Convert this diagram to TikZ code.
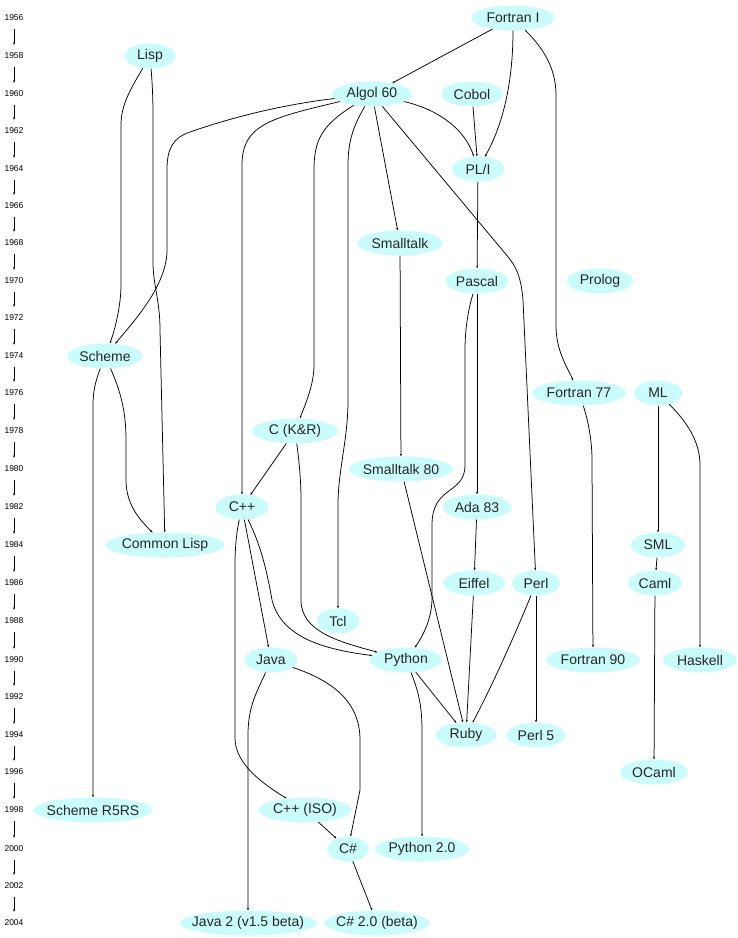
\documentclass[tikz,border=0pt]{standalone}
\usepackage{fontspec}
\setmainfont{Liberation Sans}
\usetikzlibrary{shapes.geometric,arrows.meta}
\definecolor{lc}{RGB}{202,252,252}
\newcommand\mklbl[1]{\makebox[0pt][c]{#1}}
\tikzset{
  lang/.style={ellipse, fill=lc, inner sep=0pt, minimum height=25pt, font=\fontsize{14}{16}\selectfont, text=black!85},
  yr/.style={font=\fontsize{8.5}{10}\selectfont, inner sep=0pt, minimum height=22pt, text=black},
  e/.style={draw, line width=0.75pt, -{Stealth[length=2.5pt,width=2pt]}},
  tl/.style={draw, line width=0.75pt, -{Stealth[length=2.5pt,width=2pt]}}
}
\begin{document}
\begin{tikzpicture}[x=1pt,y=-1pt]
\fill[white] (0,0) rectangle (738,938);
\useasboundingbox (0,0) rectangle (738,938);
% timeline
\foreach \yy/\r in {1956/18,1958/56,1960/94,1962/131,1964/169,1966/206,1968/243,1970/281,1972/318,1974/356,1976/393,1978/431,1980/469,1982/507,1984/545,1986/583,1988/621,1990/660,1992/697,1994/735,1996/772,1998/810,2000/849,2002/886,2004/923}
  \node[yr] (y\yy) at (14,\r) {\yy};
\foreach \a/\b in {1956/1958,1958/1960,1960/1962,1962/1964,1964/1966,1966/1968,1968/1970,1970/1972,1972/1974,1974/1976,1976/1978,1978/1980,1980/1982,1982/1984,1984/1986,1986/1988,1988/1990,1990/1992,1992/1994,1994/1996,1996/1998,1998/2000,2000/2002,2002/2004}
  \draw[tl] (y\a) -- (y\b);
% languages
\node[lang, minimum width=83pt] (FortranI) at (513,18) {\mklbl{Fortran I}};
\node[lang, minimum width=51pt] (Lisp) at (150,56) {\mklbl{Lisp}};
\node[lang, minimum width=80pt] (Algol) at (372,94) {\mklbl{Algol 60}};
\node[lang, minimum width=61pt] (Cobol) at (472,94) {\mklbl{Cobol}};
\node[lang, minimum width=52pt] (PLI) at (478,169) {\mklbl{PL/I}};
\node[lang, minimum width=85pt] (Smalltalk) at (400,243) {\mklbl{Smalltalk}};
\node[lang, minimum width=63pt] (Pascal) at (477,281) {\mklbl{Pascal}};
\node[lang, minimum width=66pt] (Prolog) at (600,281) {\mklbl{Prolog}};
\node[lang, minimum width=75pt] (Scheme) at (105,356) {\mklbl{Scheme}};
\node[lang, minimum width=94pt] (Fortran77) at (579,393) {\mklbl{Fortran 77}};
\node[lang, minimum width=48pt] (ML) at (658,393) {\mklbl{ML}};
\node[lang, minimum width=86pt] (CKR) at (295,431) {\mklbl{C (K\&R)}};
\node[lang, minimum width=104pt] (Smalltalk80) at (401,469) {\mklbl{Smalltalk 80}};
\node[lang, minimum width=53pt] (CPP) at (242,507) {\mklbl{C++}};
\node[lang, minimum width=69pt] (Ada83) at (477,507) {\mklbl{Ada 83}};
\node[lang, minimum width=119pt] (CommonLisp) at (165,545) {\mklbl{Common Lisp}};
\node[lang, minimum width=54pt] (SML) at (658,545) {\mklbl{SML}};
\node[lang, minimum width=62pt] (Eiffel) at (474,583) {\mklbl{Eiffel}};
\node[lang, minimum width=48pt] (Perl) at (536,583) {\mklbl{Perl}};
\node[lang, minimum width=54pt] (Caml) at (655,583) {\mklbl{Caml}};
\node[lang, minimum width=43pt] (Tcl) at (338,621) {\mklbl{Tcl}};
\node[lang, minimum width=53pt] (Java) at (271,660) {\mklbl{Java}};
\node[lang, minimum width=72pt] (Python) at (406,660) {\mklbl{Python}};
\node[lang, minimum width=94pt] (Fortran90) at (593,660) {\mklbl{Fortran 90}};
\node[lang, minimum width=74pt] (Haskell) at (700,660) {\mklbl{Haskell}};
\node[lang, minimum width=61pt] (Ruby) at (466,735) {\mklbl{Ruby}};
\node[lang, minimum width=59pt] (Perl5) at (536,735) {\mklbl{Perl 5}};
\node[lang, minimum width=68pt] (OCaml) at (654,772) {\mklbl{OCaml}};
\node[lang, minimum width=119pt] (SchemeR5RS) at (93,810) {\mklbl{Scheme R5RS}};
\node[lang, minimum width=93pt] (CPPISO) at (305,810) {\mklbl{C++ (ISO)}};
\node[lang, minimum width=41pt] (CS) at (348,849) {\mklbl{C\#}};
\node[lang, minimum width=94pt] (Python20) at (422,849) {\mklbl{Python 2.0}};
\node[lang, minimum width=137pt] (Java2) at (248,923) {\mklbl{Java 2 (v1.5 beta)}};
\node[lang, minimum width=105pt] (CS20) at (377,923) {\mklbl{C\# 2.0 (beta)}};
% edges
\draw[e] (FortranI) -- (Algol);
\draw[e] (FortranI) .. controls (513,90) and (500,130) .. (PLI);
\draw[e] (FortranI) .. controls (540,45) and (556,65) .. (556,95) -- (556,325) .. controls (556,350) and (566,365) .. (Fortran77);
\draw[e] (Lisp) .. controls (130,90) and (121,105) .. (121,125) -- (121,285) .. controls (121,305) and (115,330) .. (Scheme);
\draw[e] (Lisp) .. controls (152,80) and (153,95) .. (153,115) -- (153,262) .. controls (153,285) and (160,300) .. (160,330) -- (CommonLisp);
\draw[e] (Algol) .. controls (280,105) and (230,118) .. (190,132) .. controls (172,138) and (167,150) .. (167,170) -- (167,250) .. controls (167,285) and (135,320) .. (Scheme);
\draw[e] (Algol) .. controls (270,118) and (242,125) .. (242,165) -- (CPP);
\draw[e] (Algol) .. controls (322,125) and (314,140) .. (314,170) -- (314,365) .. controls (314,385) and (305,405) .. (CKR);
\draw[e] (Algol) .. controls (354,125) and (348,140) .. (348,165) -- (348,400) .. controls (348,440) and (338,470) .. (338,505) -- (Tcl);
\draw[e] (Algol) -- (Smalltalk);
\draw[e] (Algol) -- (509,258) .. controls (515,266) and (521,275) .. (523,300) -- (Perl);
\draw[e] (Algol) .. controls (440,110) and (465,130) .. (PLI);
\draw[e] (Cobol) -- (PLI);
\draw[e] (PLI) -- (Pascal);
\draw[e] (Smalltalk) -- (Smalltalk80);
\draw[e] (Pascal) -- (Ada83);
\draw[e] (Pascal) .. controls (468,310) and (465,330) .. (465,350) -- (465,465) .. controls (465,495) and (432,485) .. (432,525) -- (432,598) .. controls (432,622) and (420,640) .. (Python);
\draw[e] (Smalltalk80) -- (Ruby);
\draw[e] (Ada83) -- (Eiffel);
\draw[e] (Eiffel) -- (Ruby);
\draw[e] (Perl) .. controls (515,635) and (490,690) .. (Ruby);
\draw[e] (Perl) -- (Perl5);
\draw[e] (Python) -- (Ruby);
\draw[e] (Python) .. controls (418,690) and (422,705) .. (422,730) -- (Python20);
\draw[e] (Fortran77) .. controls (588,420) and (592,440) .. (592,460) -- (Fortran90);
\draw[e] (ML) -- (SML);
\draw[e] (ML) .. controls (685,420) and (700,440) .. (700,465) -- (Haskell);
\draw[e] (SML) -- (Caml);
\draw[e] (Caml) -- (OCaml);
\draw[e] (Scheme) .. controls (120,390) and (126,410) .. (126,440) -- (126,480) .. controls (126,505) and (140,520) .. (CommonLisp);
\draw[e] (Scheme) .. controls (96,380) and (93,390) .. (93,405) -- (SchemeR5RS);
\draw[e] (CKR) -- (CPP);
\draw[e] (CKR) .. controls (299,460) and (301,480) .. (301,500) -- (301,600) .. controls (301,632) and (340,642) .. (Python);
\draw[e] (CPP) .. controls (258,540) and (265,560) .. (272,600) .. controls (282,640) and (330,650) .. (Python);
\draw[e] (CPP) -- (Java);
\draw[e] (CPP) .. controls (237,530) and (235,545) .. (235,565) -- (235,738) .. controls (235,765) and (265,785) .. (CPPISO);
\draw[e] (Java) .. controls (258,690) and (248,705) .. (248,735) -- (Java2);
\draw[e] (Java) .. controls (330,680) and (360,700) .. (360,740) -- (360,790) -- (CS);
\draw[e] (CPPISO) -- (CS);
\draw[e] (CS) -- (CS20);
\end{tikzpicture}
\end{document}
